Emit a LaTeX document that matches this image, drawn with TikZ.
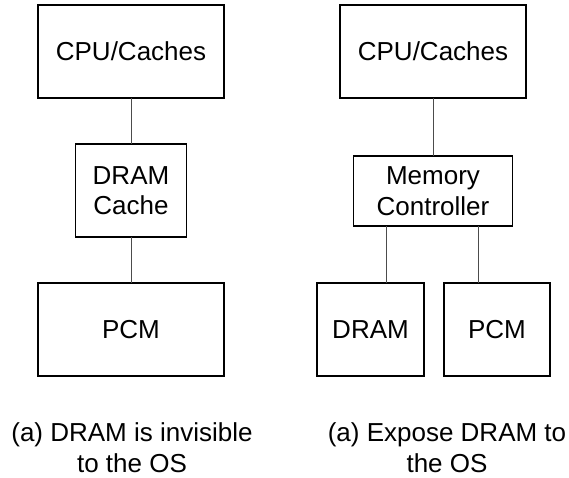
\documentclass[tikz,border=0pt]{standalone}
\usepackage{fontspec}
\setmainfont{Liberation Sans}
\usetikzlibrary{positioning}

\begin{document}
\begin{tikzpicture}[
		x=1pt, y=1pt,
		font=\fontsize{26}{30.5}\selectfont,
		block/.style={draw, line width=1.7pt, outer sep=0pt, inner sep=0pt, align=center},
		wire/.style={draw=black!70, line width=1pt},
		caption/.style={align=center, inner sep=0pt}
		]
		
		\useasboundingbox (0,0) rectangle (569,-477);
		
		% left: DRAM as a cache
		\node[block, minimum width=186pt, minimum height=93pt] (cpuL) at (131,-51.5) {CPU/Caches};
		\node[block, minimum width=111pt, minimum height=93pt, below=46pt of cpuL] (dcache) {DRAM\\Cache};
		\node[block, minimum width=186pt, minimum height=93pt, below=46pt of dcache] (pcmL) {PCM};
		
		\draw[wire] (cpuL.south) -- (dcache.north);
		\draw[wire] (dcache.south) -- (pcmL.north);
		
		% right: DRAM exposed
		\node[block, minimum width=186pt, minimum height=93pt] (cpuR) at (433,-51.5) {CPU/Caches};
		\node[block, minimum width=159pt, minimum height=70pt, below=58pt of cpuR] (mc) {Memory\\Controller};
		\node[block, minimum width=107pt, minimum height=93pt] (dram) at (370.5,-329.5) {DRAM};
		\node[block, minimum width=106pt, minimum height=93pt, right=20pt of dram] (pcmR) {PCM};
		
		\coordinate (mcL) at ([xshift=-46.5pt]mc.south);
		\coordinate (mcR) at ([xshift=45.5pt]mc.south);
		
		\draw[wire] (cpuR.south) -- (mc.north);
		\draw[wire] (mcL) -- (mcL |- dram.north);
		\draw[wire] (mcR) -- (mcR |- pcmR.north);
		
		% captions
		\node[caption, anchor=north] (capL) at (132,-422.5) {(a) DRAM is invisible\\to the OS};
		\node[caption, anchor=north] (capR) at (447,-422.5) {(a) Expose DRAM to\\the OS};
	\end{tikzpicture}
\end{document}
